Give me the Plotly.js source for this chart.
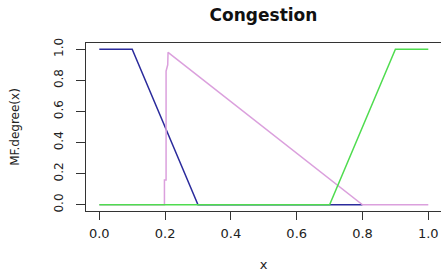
<!DOCTYPE html>
<html><head><meta charset="utf-8">
<script src="https://cdn.plot.ly/plotly-3.0.1.min.js"></script>
<style>html,body{margin:0;padding:0;background:#fff;}#chart{width:441px;height:273px;}</style>
</head><body><div id="chart"></div>
<script>
// Membership functions of "Congestion"
const lowX = [0, 0.1, 0.3, 0.8];
const lowY = [1, 1, 0, 0];
const medX = [0, 0.198, 0.198, 0.203, 0.203, 0.208, 0.209, 0.8, 1.0];
const medY = [0, 0, 0.16, 0.16, 0.86, 0.9, 0.98, 0, 0];
const highX = [0, 0.7, 0.9, 1.0];
const highY = [0, 0, 1, 1];
const tickVals = [0, 0.2, 0.4, 0.6, 0.8, 1.0];
const tickText = ["0.0", "0.2", "0.4", "0.6", "0.8", "1.0"];

const traces = [
  {x: lowX, y: lowY, mode: 'lines', line: {color: '#2b2b9c', width: 1.5}},
  {x: medX, y: medY, mode: 'lines', line: {color: '#dba0dd', width: 1.5}},
  {x: highX, y: highY, mode: 'lines', line: {color: '#4fdc4f', width: 1.5}}
];
const layout = {
  width: 441, height: 273,
  margin: {l: 86, r: 0, t: 43, b: 62},
  paper_bgcolor: '#fff', plot_bgcolor: '#fff',
  showlegend: false,
  font: {family: 'DejaVu Sans, sans-serif', color: '#222'},
  title: {text: '<b>Congestion</b>', x: 0.5, xref: 'paper', y: 1 - 15/273, yref: 'container', yanchor: 'middle',
          font: {family: 'DejaVu Sans, sans-serif', size: 17, color: '#111'}},
  xaxis: {range: [-0.0404, 1.0386], tickvals: tickVals, ticktext: tickText, ticks: 'outside', ticklen: 8,
          tickcolor: '#333', showgrid: false, zeroline: false, showline: true, mirror: true, linecolor: '#333', linewidth: 1,
          tickfont: {size: 13, color: '#222'}, ticklabelstandoff: 2,
          title: {text: 'x', font: {size: 13, color: '#222'}, standoff: 20}},
  yaxis: {range: [-0.04, 1.04], tickvals: tickVals, ticktext: tickText, ticks: 'outside', ticklen: 9, tickangle: -90,
          tickcolor: '#333', showgrid: false, zeroline: false, showline: true, mirror: true, linecolor: '#333', linewidth: 1,
          tickfont: {size: 12, color: '#222'}, ticklabelstandoff: 8,
          title: {text: 'MF.degree(x)', font: {size: 12, color: '#222'}, standoff: 30}}
};
Plotly.newPlot('chart', traces, layout, {displayModeBar: false, staticPlot: true});
</script></body></html>
